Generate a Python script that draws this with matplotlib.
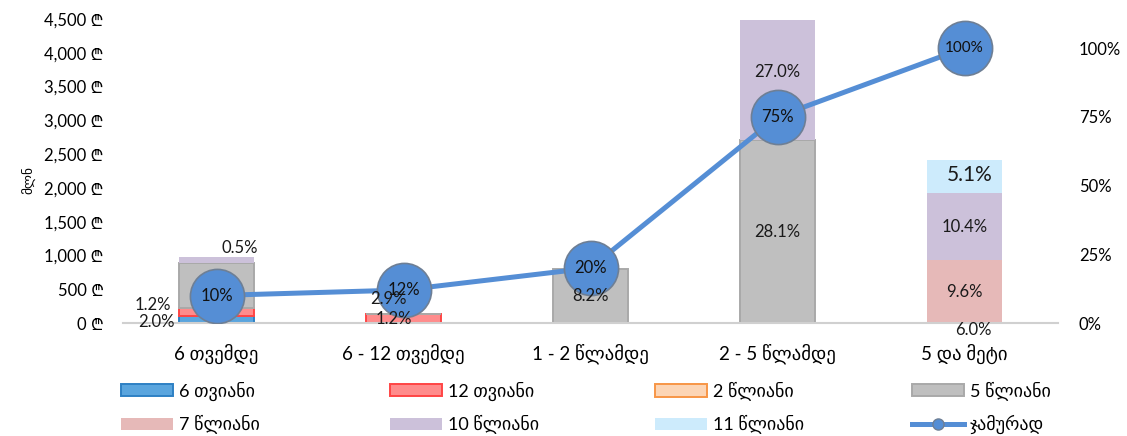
import numpy as np
import matplotlib.pyplot as plt
from matplotlib.patches import Patch
from matplotlib.lines import Line2D

plt.rcParams['font.family'] = ['Lato', 'DejaVu Sans', 'Noto Sans', 'Inter', 'Roboto',
                               'Open Sans', 'Liberation Sans']

categories = ["6 თვემდე", "6 - 12 თვემდე", "1 - 2 წლამდე", "2 - 5 წლამდე", "5 და მეტი"]
series_names = ["6 თვიანი", "12 თვიანი", "2 წლიანი", "5 წლიანი", "7 წლიანი", "10 წლიანი", "11 წლიანი"]

# amounts per series (mln ₾), one value per category
v_6m = [100, 0, 0, 0, 0]
v_12m = [120, 130, 0, 0, 0]
v_2y = [0, 0, 0, 0, 0]
v_5y = [665, 0, 795, 2705, 0]
v_7y = [0, 0, 0, 0, 930]
v_10y = [90, 0, 0, 1775, 990]
v_11y = [0, 0, 0, 0, 490]

# share labels on the segments
lab_6m = ["2.0%", "", "", "", ""]
lab_12m = ["1.2%", "1.2%", "", "", ""]
lab_2y = ["", "", "", "", "6.0%"]
lab_5y = ["", "2.9%", "8.2%", "28.1%", ""]
lab_7y = ["", "", "", "", "9.6%"]
lab_10y = ["0.5%", "", "", "27.0%", "10.4%"]
lab_11y = ["", "", "", "", "5.1%"]

cumulative = [0.10, 0.12, 0.20, 0.75, 1.00]
cum_labels = ["10%", "12%", "20%", "75%", "100%"]

values = [v_6m, v_12m, v_2y, v_5y, v_7y, v_10y, v_11y]
labels = [lab_6m, lab_12m, lab_2y, lab_5y, lab_7y, lab_10y, lab_11y]

face = ['#5AA5DE', '#FF8C8C', '#FCD5B5', '#BFBFBF', '#E6B9B8', '#CCC1DA', '#CDEBFC']
edge = ['#2E80C4', '#FF4545', '#F79646', '#A9A9A9', 'none', 'none', 'none']
line_col = '#558ED5'

# label nudges (pixels) where Excel moved the label away from the segment centre
nudge = {(0, 0): (-60, -2), (1, 0): (-64, 7), (5, 0): (23, 12), (1, 1): (-10, 0),
         (3, 1): (-15, 15), (2, 4): (9, -7), (6, 4): (5, 2), (5, 3): (0, 8)}

W, H = 1127, 436
fig = plt.figure(figsize=(W / 100, H / 100), dpi=100)
ax = fig.add_axes([123 / W, (H - 323) / H, 935 / W, 304 / H])
ax2 = ax.twinx()
ax.set_zorder(1)
ax2.set_zorder(2)
ax2.patch.set_visible(False)

x = np.arange(len(categories))
bottom = np.zeros(len(categories))
for i, vals in enumerate(values):
    vals = np.array(vals, dtype=float)
    ax.bar(x, vals, 0.4, bottom=bottom, color=face[i],
           edgecolor=edge[i], linewidth=1.4 if edge[i] != 'none' else 0, zorder=2)
    for k in range(len(categories)):
        if labels[i][k]:
            dx, dy = nudge.get((i, k), (0, 0))
            fs = 15 if (i, k) == (6, 4) else 12
            # drawn on the line axes so the labels sit above the markers
            ax2.annotate(labels[i][k], (x[k], bottom[k] + vals[k] / 2), xycoords=ax.transData,
                         xytext=(dx, dy), textcoords='offset pixels',
                         ha='center', va='center', fontsize=fs, color='#1a1a1a',
                         zorder=6, annotation_clip=False)
    bottom += vals

ax.set_xlim(-0.5, len(categories) - 0.5)
ax.set_ylim(0, 4500)
ax.set_yticks(np.arange(0, 4501, 500))
ax.yaxis.set_major_formatter(plt.FuncFormatter(lambda v, p: f"{v:,.0f} ₾"))
ax.set_xticks(x)
ax.set_xticklabels(categories, fontsize=13.5)
ax.tick_params(axis='x', length=0, pad=15)
ax.tick_params(axis='y', length=0, pad=14, labelsize=12)
ax.set_ylabel("მლნ", fontsize=9.5)
ax.yaxis.set_label_coords(-0.093, 0.47)
for s in ['top', 'left', 'right']:
    ax.spines[s].set_visible(False)
    ax2.spines[s].set_visible(False)
ax.spines['bottom'].set_color('#D0D0D0')
ax.spines['bottom'].set_linewidth(1.5)
ax2.spines['bottom'].set_visible(False)

ax2.plot(x, cumulative, color=line_col, lw=3.6, marker='o', markersize=39,
         markerfacecolor=line_col, markeredgecolor='#6E7F95', markeredgewidth=1.2, zorder=3)
for k in range(len(categories)):
    ax2.text(x[k], cumulative[k], cum_labels[k], ha='center', va='center',
             fontsize=12 if k < 4 else 11, color='#111111', zorder=5)
ax2.set_ylim(0, 1.1055)
ax2.set_yticks([0, 0.25, 0.5, 0.75, 1.0])
ax2.yaxis.set_major_formatter(plt.FuncFormatter(lambda v, p: f"{v:.0%}"))
ax2.tick_params(axis='y', length=0, pad=15, labelsize=12)

# legend, one small legend per column
handles = [Patch(facecolor=face[i], edgecolor=edge[i], linewidth=1.4 if edge[i] != 'none' else 0)
           for i in range(len(series_names))]
handles.append(Line2D([], [], color=line_col, lw=3.6, marker='o', markersize=8,
                      markerfacecolor=line_col, markeredgecolor='#6E7F95'))
names = series_names + ["ჯამურად"]
col_x = [121, 390, 655, 912]
for c in range(4):
    fig.legend([handles[c], handles[c + 4]], [names[c], names[c + 4]],
               loc='center left', bbox_to_anchor=(col_x[c] / W, (H - 408) / H),
               frameon=False, fontsize=13, borderpad=0, borderaxespad=0,
               handlelength=2.9, handleheight=0.65, handletextpad=0.3, labelspacing=0.8)

fig.savefig("out.png", dpi=100)
